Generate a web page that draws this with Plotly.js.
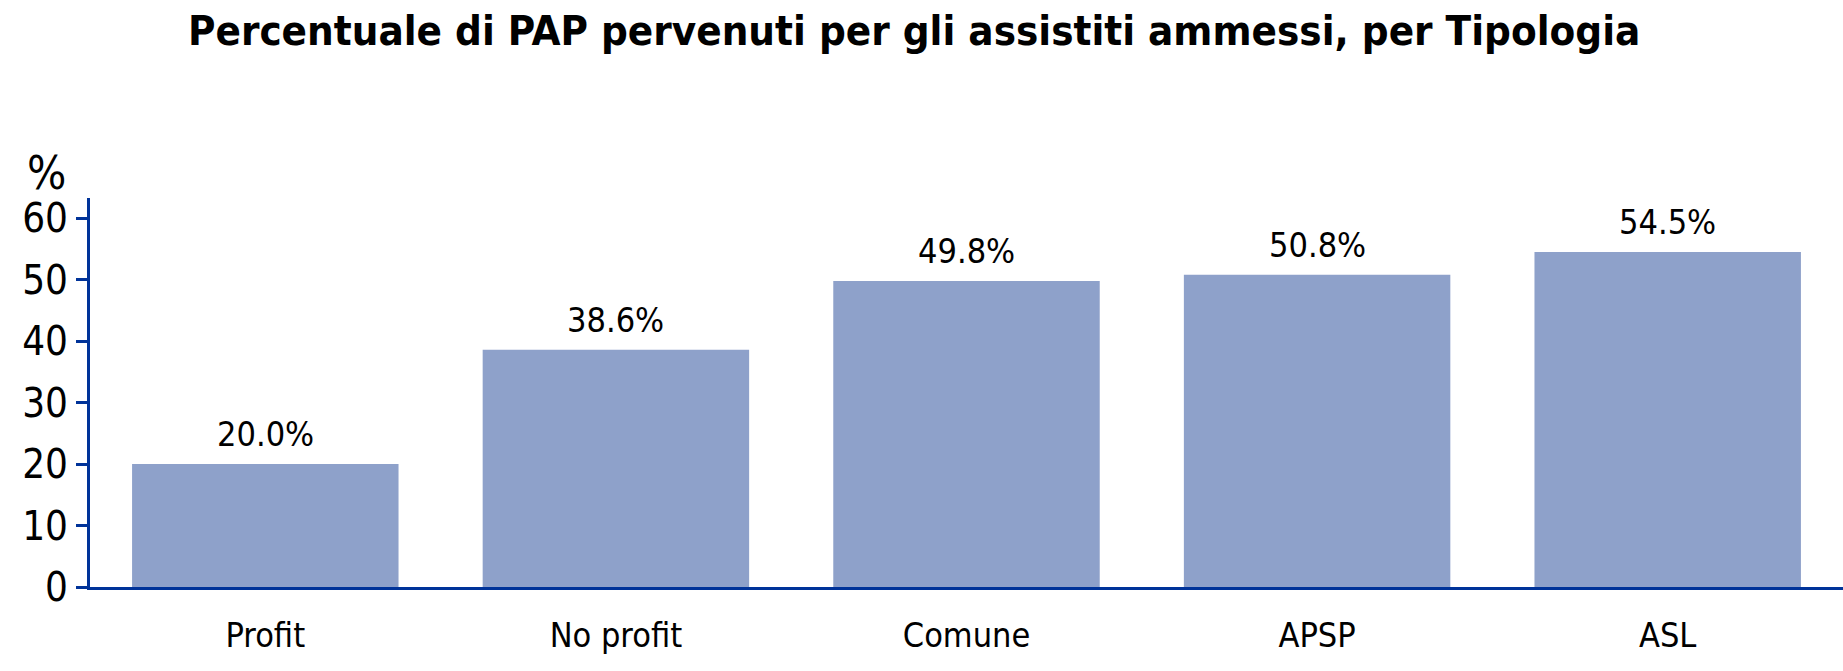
<!DOCTYPE html>
<html>
<head>
<meta charset="utf-8">
<script src="https://cdn.plot.ly/plotly-3.0.1.min.js"></script>
<style>
  html, body { margin: 0; padding: 0; background: #ffffff; }
  #chart { width: 1843px; height: 671px; }
</style>
</head>
<body>
<div id="chart"></div>
<script>
// tipologie e percentuali
const categories = ['Profit', 'No profit', 'Comune', 'APSP', 'ASL'];
const percentages = [20.0, 38.6, 49.8, 50.8, 54.5];
const yTicks = [0, 10, 20, 30, 40, 50, 60];

const axisBlue = '#003399';
const barColor = '#8ea1ca';
const font = '"DejaVu Sans Condensed", "DejaVu Sans", sans-serif';

const trace = {
  type: 'bar',
  x: categories,
  y: percentages,
  marker: { color: barColor, line: { width: 0 } },
  width: 0.76,
  hoverinfo: 'x+y'
};

// etichette sopra le barre
const annotations = categories.map((c, i) => ({
  x: c,
  y: percentages[i],
  xref: 'x',
  yref: 'y',
  text: percentages[i].toFixed(1) + '%',
  showarrow: false,
  yanchor: 'bottom',
  yshift: 8,
  font: { family: font, size: 34, color: '#000000' }
}));

// unità dell'asse y
annotations.push({
  xref: 'paper',
  yref: 'paper',
  x: 0,
  y: 1,
  xanchor: 'right',
  yanchor: 'bottom',
  xshift: -22,
  yshift: -4,
  text: '%',
  showarrow: false,
  font: { family: font, size: 46, color: '#000000' }
});

const layout = {
  width: 1843,
  height: 671,
  margin: { l: 90, r: 0, t: 198, b: 84 },
  paper_bgcolor: '#ffffff',
  plot_bgcolor: '#ffffff',
  showlegend: false,
  title: {
    text: '<b>Percentuale di PAP pervenuti per gli assistiti ammessi, per Tipologia</b>',
    font: { family: font, size: 41.7, color: '#000000' },
    x: 0.496,
    xanchor: 'center',
    y: 0.955,
    yanchor: 'middle'
  },
  xaxis: {
    type: 'category',
    range: [-0.5, 4.5],
    showline: true,
    linecolor: axisBlue,
    linewidth: 3,
    ticks: '',
    showgrid: false,
    zeroline: false,
    ticklabelstandoff: 16,
    tickfont: { family: font, size: 34, color: '#000000' }
  },
  yaxis: {
    range: [0, 63.3],
    tickvals: yTicks,
    showline: true,
    linecolor: axisBlue,
    linewidth: 3,
    ticks: 'outside',
    ticklen: 11,
    tickwidth: 3,
    tickcolor: axisBlue,
    showgrid: false,
    zeroline: false,
    tickfont: { family: font, size: 40, color: '#000000' }
  },
  annotations: annotations
};

Plotly.newPlot('chart', [trace], layout, { displayModeBar: false });
</script>
</body>
</html>
